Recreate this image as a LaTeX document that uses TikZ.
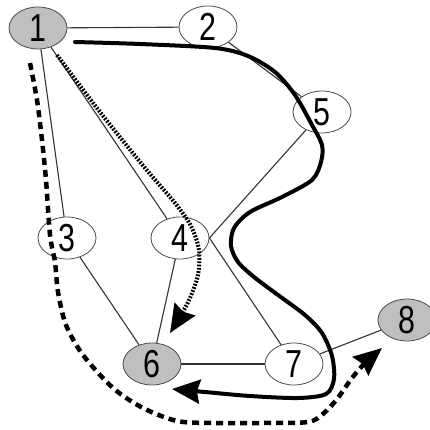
\documentclass[tikz,border=0pt]{standalone}
\usepackage{fontspec}
\newfontfamily\digitfont{Liberation Sans}[FakeStretch=0.78]
\usetikzlibrary{shapes.geometric, arrows.meta}
\begin{document}
\begin{tikzpicture}[x=1pt, y=-1pt,
	vertex/.style = {ellipse, draw = black!70, line width = 0.8pt, fill = white, minimum width = 58pt, minimum height = 42pt, inner sep = 0pt, font = \digitfont\fontsize{39}{40}\selectfont},
	marked/.style = {vertex, fill = black!25},
	link/.style = {draw = black!80, line width = 1.1pt},
	tip/.style = {-{Stealth[length = 28pt, width = 24pt, inset = 3pt]}}]
	\useasboundingbox (0,0) rectangle (429,430);
	\node[marked] (1) at (38,28) {1};
	\node[vertex] (2) at (208,27) {2};
	\node[vertex] (5) at (322,112) {5};
	\node[vertex] (3) at (67,238) {3};
	\node[vertex] (4) at (180,238) {4};
	\node[marked] (6) at (152,364) {6};
	\node[vertex] (7) at (294,364) {7};
	\node[marked] (8) at (407,320) {8};
	\draw[link] (1) -- (2);
	\draw[link] (2) -- (5);
	\draw[link] (1) -- (3);
	\draw[link] (1) -- (4);
	\draw[link] (5) -- (4.east);
	\draw[link] (4.east) -- (7);
	\draw[link] (3) -- (6);
	\draw[link] (4) -- (6);
	\draw[link] (6) -- (7);
	\draw[link] (7) -- (8);
	\draw[line width = 4pt, line cap = round, tip] plot[smooth] coordinates {(75,42) (140,44) (215,48) (248,56) (275,72) (295,95) (312,125) (322,145) (321,162) (312,180) (282,197) (250,212) (234,228) (231,246) (238,262) (254,277) (278,295) (305,315) (322,333) (332,356) (334,379) (326,394) (298,398) (250,396) (205,392) (172,389)};
	\draw[line width = 4pt, dash pattern = on 1.8pt off 1.5pt, tip] plot[smooth] coordinates {(57,55) (100,112) (145,168) (175,203) (191,226) (199,250) (198,275) (190,298) (181,315) (170,333)};
	\draw[line width = 4.5pt, dash pattern = on 7pt off 5pt, tip] plot[smooth] coordinates {(30,63) (37,100) (42,140) (46,180) (50,235) (55,262) (58,292) (66,325) (83,355) (113,388) (143,408) (177,421) (213,423) (260,423) (308,422) (324,413) (337,399) (352,378) (365,363) (382,348)};
\end{tikzpicture}
\end{document}
